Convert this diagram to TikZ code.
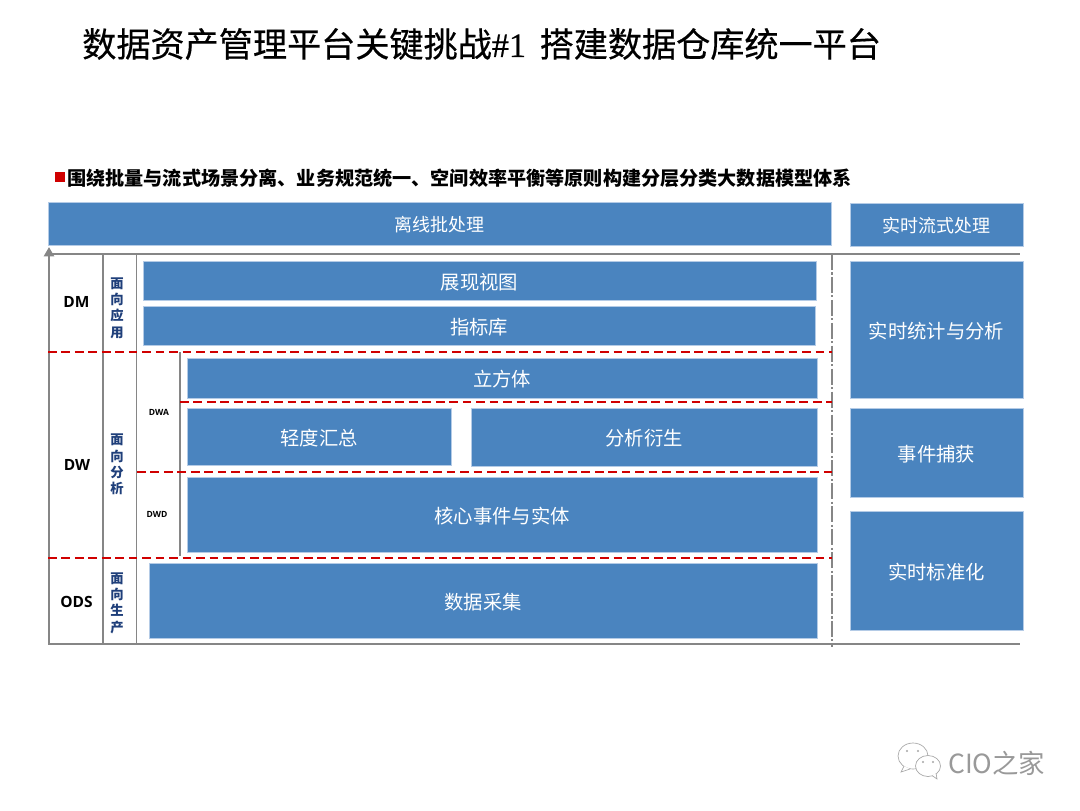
\documentclass[tikz,border=0pt]{standalone}
\usepackage{fontspec}
\setmainfont{Liberation Sans}
\newfontfamily\cjk{Noto Sans CJK SC}
\newfontfamily\cjktitle[FakeBold=0.45]{Noto Sans CJK SC}
\newfontfamily\lat{Open Sans}
\newfontfamily\seriftitle[FakeBold=0.6]{Liberation Serif}
\usetikzlibrary{arrows.meta}
\definecolor{boxblue}{HTML}{4A84BF}
\definecolor{boxedge}{HTML}{B4CBE6}
\definecolor{axisgray}{HTML}{868686}
\definecolor{dashred}{HTML}{D00000}
\definecolor{labelblue}{HTML}{1F3F7A}
\tikzset{
  x=0.75pt,y=-0.75pt,
  bluebox/.style={draw=boxedge,line width=0.5pt,fill=boxblue,text=white,inner sep=0pt,align=center,font=\cjk\fontsize{14.5}{16}\selectfont},
  axisline/.style={draw=axisgray,line width=1.7pt},
  thinaxis/.style={draw=axisgray,line width=1.4pt},
  reddash/.style={color=dashred,line width=1.7pt,dash pattern=on 6.5pt off 3.6pt},
  dashdot/.style={color=axisgray,line width=1.8pt,dash pattern=on 12pt off 1.8pt on 1.6pt off 1.8pt},
  layerlabel/.style={inner sep=0pt,font=\lat\bfseries\fontsize{11.6}{13}\selectfont,text=black},
  smalllabel/.style={inner sep=0pt,font=\lat\bfseries\fontsize{6.4}{8}\selectfont,text=black},
  facing/.style={inner sep=0pt,align=center,text=labelblue,font=\cjk\bfseries\fontsize{10}{12.2}\selectfont},
  bubble/.style={draw=black!35,fill=white,line width=0.5pt},
  eye/.style={fill=black!35,draw=none}
}
\newcommand{\bbx}[6]{%
  \pgfmathsetmacro\bw{(#4-#2)*0.75}\pgfmathsetmacro\bh{(#5-#3)*0.75}%
  \node[bluebox,minimum width=\bw pt,minimum height=\bh pt] (#1) at ({(#2+#4)/2},{(#3+#5)/2}) {\raisebox{-1.1pt}[\height][\depth]{#6}};}
\begin{document}
\begin{tikzpicture}
\useasboundingbox (0,0) rectangle (1080,810);
% title
\node[anchor=west,inner sep=0pt,font=\cjktitle\fontsize{25.6}{30}\selectfont] (title) at (82,44)
  {数据资产管理平台关键挑战{\seriftitle\#1}\hspace{0.4em}搭建数据仓库统一平台};
\node[fill=dashred,minimum size=7pt,inner sep=0pt] (bullet) at (60,177) {};
\node[anchor=west,inner sep=0pt,font=\cjk\bfseries\fontsize{14.35}{16}\selectfont] (subtitle) at (67,178)
  {围绕批量与流式场景分离、业务规范统一、空间效率平衡等原则构建分层分类大数据模型体系};
% coordinates
\coordinate (o) at (49,644); \coordinate (tipy) at (49,247);
\coordinate (tl) at (47,254); \coordinate (tr) at (1020,254);
\coordinate (bl) at (48,644); \coordinate (br) at (1020,644);
\coordinate (v1t) at (103,254); \coordinate (v1b) at (103,644);
\coordinate (v2t) at (136.5,254); \coordinate (v2b) at (136.5,644);
\coordinate (v3t) at (180,352); \coordinate (v3b) at (180,556);
\coordinate (dt) at (832,254); \coordinate (db) at (832,647);
\coordinate (r1a) at (48,352); \coordinate (r1b) at (832,352);
\coordinate (r2a) at (180,402); \coordinate (r2b) at (832,402);
\coordinate (r3a) at (137,472); \coordinate (r3b) at (832,472);
\coordinate (r4a) at (48,558); \coordinate (r4b) at (832,558);
% blue boxes
\bbx{offline}{48}{202}{831}{245}{\fontsize{13.5}{16}\selectfont 离线批处理}
\bbx{stream}{850}{203}{1023}{246}{\fontsize{13.5}{16}\selectfont 实时流式处理}
\bbx{view}{143}{261}{816}{300}{展现视图}
\bbx{metric}{143}{306}{815}{345}{指标库}
\bbx{cube}{187}{358}{817}{398}{立方体}
\bbx{light}{187}{408}{451}{465}{轻度汇总}
\bbx{derive}{471}{408}{817}{466}{分析衍生}
\bbx{core}{187}{477}{817}{552}{核心事件与实体}
\bbx{collect}{149}{563}{817}{638}{数据采集}
\bbx{rtstat}{850}{261}{1023}{398}{实时统计与分析}
\bbx{rtevent}{850}{408}{1023}{497}{事件捕获}
\bbx{rtnorm}{850}{511}{1023}{630}{实时标准化}
% axes
\draw[axisline] (tl) -- (tr);
\draw[axisline] (bl) -- (br);
\draw[axisline] (v1t) -- (v1b);
\draw[thinaxis] (v2t) -- (v2b);
\draw[thinaxis] (v3t) -- (v3b);
\draw[axisline,-{Triangle[length=7pt,width=7.5pt]}] (o) -- (tipy);
\draw[dashdot] (dt) -- (db);
% red dashed
\draw[reddash] (r1a) -- (r1b);
\draw[reddash] (r2a) -- (r2b);
\draw[reddash] (r3a) -- (r3b);
\draw[reddash] (r4a) -- (r4b);
% layer labels
\node[layerlabel] (dm) at (76.5,301.5) {DM};
\node[layerlabel] (dw) at (77,465) {DW};
\node[layerlabel] (ods) at (76.5,601.5) {ODS};
\node[smalllabel] (dwa) at (159,412) {DWA};
\node[smalllabel] (dwd) at (157,514.5) {DWD};
\node[facing] (fa) at (117,308) {面\\向\\应\\用};
\node[facing] (fb) at (117,464.5) {面\\向\\分\\析};
\node[facing] (fc) at (117,603) {面\\向\\生\\产};
% watermark
\draw[bubble] (913,756) ellipse (15 and 13);
\draw[bubble] (904,766) -- (901,772) -- (910,769);
\draw[bubble] (928,766) ellipse (12.5 and 10.5);
\draw[bubble] (932,775.5) -- (937,779) -- (936,773);
\fill[eye] (907,751) circle (1.2); \fill[eye] (918,751) circle (1.2);
\fill[eye] (923,762) circle (1.2); \fill[eye] (933,762) circle (1.2);
\node[anchor=west,inner sep=0pt,text=black!40,font=\cjk\fontsize{19.8}{22}\selectfont] (mark) at (948,763) {CIO之家};
\end{tikzpicture}
\end{document}
